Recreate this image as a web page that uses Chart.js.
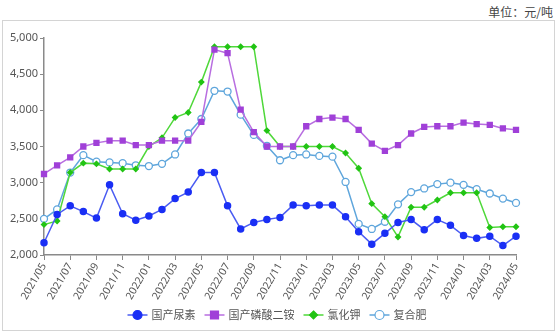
<!DOCTYPE html>
<html>
<head>
<meta charset="utf-8">
<script src="https://cdn.jsdelivr.net/npm/chart.js@4.4.1/dist/chart.umd.min.js"></script>
<style>
  body { margin: 0; background: #fff; }
  #wrap { position: relative; width: 558px; height: 334px; }
  #frame { position: absolute; left: 2px; top: 20px; width: 551px; height: 309px; border: 1px solid #d4d4d4; }
  #unit { position: absolute; right: 5px; top: 3px; font: 12px "Noto Sans CJK SC", sans-serif; color: #444; }
  canvas { position: absolute; left: 0; top: 0; }
</style>
</head>
<body>
<div id="wrap">
  <div id="frame"></div>
  <div id="unit">单位：元/吨</div>
  <canvas id="priceChart" width="558" height="334"></canvas>
</div>
<script>
// 月份 2021/05 - 2024/05
const months = []
for (let y = 2021, m = 5; y < 2024 || (y === 2024 && m <= 5); m++) {
  if (m > 12) { m = 1; y++ }
  months.push(y + '/' + String(m).padStart(2, '0'))
}

const yTicks = [2000, 2500, 3000, 3500, 4000, 4500, 5000]

const urea = [2170, 2560, 2680, 2600, 2510, 2970, 2570, 2480, 2540, 2630, 2780, 2870,
  3140, 3140, 2680, 2360, 2450, 2490, 2520, 2690, 2680, 2690, 2690, 2530, 2320, 2150,
  2300, 2450, 2490, 2350, 2490, 2410, 2270, 2230, 2260, 2130, 2260]
const dap = [3120, 3240, 3350, 3500, 3550, 3580, 3580, 3520, 3520, 3580, 3580, 3580,
  3840, 4840, 4790, 4010, 3700, 3500, 3500, 3500, 3780, 3880, 3900, 3880, 3730, 3540,
  3440, 3520, 3680, 3770, 3780, 3780, 3830, 3810, 3800, 3750, 3730]
const potash = [2420, 2470, 3140, 3270, 3260, 3190, 3190, 3190, 3500, 3620, 3900, 3970,
  4390, 4880, 4880, 4880, 4880, 3720, 3500, 3500, 3500, 3500, 3500, 3410, 3200, 2710,
  2530, 2250, 2660, 2660, 2760, 2860, 2860, 2860, 2380, 2390, 2390]
const compound = [2500, 2630, 3140, 3380, 3290, 3280, 3270, 3240, 3230, 3260, 3390, 3680,
  3880, 4270, 4260, 3940, 3660, 3510, 3310, 3380, 3390, 3370, 3360, 3010, 2430, 2360,
  2460, 2700, 2870, 2920, 2980, 3000, 2970, 2910, 2850, 2780, 2720]

const seriesNames = ['国产尿素', '国产磷酸二铵', '氯化钾', '复合肥']

// 图例：线段 + 标记，居中画在底部
const lineLegend = {
  id: 'lineLegend',
  afterDraw(chart) {
    const ctx = chart.ctx
    ctx.save()
    ctx.font = '11px "Noto Sans CJK SC", sans-serif'
    const items = chart.data.datasets.map((ds) => ({ ds, w: 24 + ctx.measureText(ds.label).width }))
    const gap = 9
    const total = items.reduce((s, it) => s + it.w, 0) + gap * (items.length - 1)
    let x = 277 - total / 2
    const y = 315
    items.forEach(({ ds, w }) => {
      ctx.strokeStyle = ds.borderColor
      ctx.lineWidth = 1.5
      ctx.beginPath()
      ctx.moveTo(x, y)
      ctx.lineTo(x + 20, y)
      ctx.stroke()
      ctx.fillStyle = ds.pointBackgroundColor
      ctx.strokeStyle = ds.pointBorderColor
      ctx.lineWidth = 1.2
      ctx.beginPath()
      if (ds.pointStyle === 'circle') {
        ctx.arc(x + 10, y, 4.5, 0, Math.PI * 2)
      } else if (ds.pointStyle === 'rect') {
        ctx.rect(x + 6, y - 4, 8, 8)
      } else {
        ctx.moveTo(x + 10, y - 4); ctx.lineTo(x + 14, y); ctx.lineTo(x + 10, y + 4); ctx.lineTo(x + 6, y)
        ctx.closePath()
      }
      ctx.fill()
      ctx.stroke()
      ctx.fillStyle = '#555'
      ctx.textBaseline = 'middle'
      ctx.fillText(ds.label, x + 24, y)
      x += w + gap
    })
    ctx.restore()
  },
}

const tickColor = (c) => (c.index % 2 === 0 ? '#8a8a8a' : 'rgba(0,0,0,0)')

new Chart(document.getElementById('priceChart'), {
  type: 'line',
  data: {
    labels: months,
    datasets: [
      {
        label: seriesNames[0], data: urea,
        borderColor: '#4a5cf2', pointBackgroundColor: '#1a2ff5', pointBorderColor: '#1a2ff5',
        pointStyle: 'circle', pointRadius: 3,
      },
      {
        label: seriesNames[1], data: dap,
        borderColor: '#b86ee0', pointBackgroundColor: '#a040d8', pointBorderColor: '#a040d8',
        pointStyle: 'rect', pointRadius: 3.4,
      },
      {
        label: seriesNames[2], data: potash,
        borderColor: '#4fd83a', pointBackgroundColor: '#22c414', pointBorderColor: '#22c414',
        pointStyle: 'rectRot', pointRadius: 2.4,
      },
      {
        label: seriesNames[3], data: compound,
        borderColor: '#5fa6dc', pointBackgroundColor: '#ffffff', pointBorderColor: '#5fa6dc',
        pointStyle: 'circle', pointRadius: 3.5, pointBorderWidth: 1.3,
      },
    ].map((d) => ({ borderWidth: 1.5, tension: 0, ...d })),
  },
  options: {
    responsive: false,
    animation: false,
    layout: { padding: { left: 0, right: 42, top: 38, bottom: 0 } },
    plugins: { legend: { display: false }, tooltip: { enabled: false } },
    scales: {
      x: {
        offset: false,
        afterFit: (s) => { s.height = 79 },
        grid: { drawOnChartArea: false, tickLength: 5, color: tickColor },
        border: { color: '#8a8a8a', width: 1.5 },
        ticks: {
          autoSkip: false,
          maxRotation: 60,
          minRotation: 60,
          padding: 1,
          color: '#555',
          font: { family: 'Noto Sans', size: 10.5 },
          callback: (v, i) => (i % 2 === 0 ? months[i] : ''),
        },
      },
      y: {
        min: 2000,
        max: 5000,
        afterFit: (s) => { s.width = 44 },
        afterBuildTicks: (s) => { s.ticks = yTicks.map((v) => ({ value: v })) },
        grid: { drawOnChartArea: false, tickLength: 4, color: '#8a8a8a' },
        border: { color: '#8a8a8a', width: 1.5 },
        ticks: {
          padding: 2,
          color: '#555',
          font: { family: 'Noto Sans', size: 11 },
          callback: (v) => v.toLocaleString('en-US'),
        },
      },
    },
  },
  plugins: [lineLegend],
})
</script>
</body>
</html>
